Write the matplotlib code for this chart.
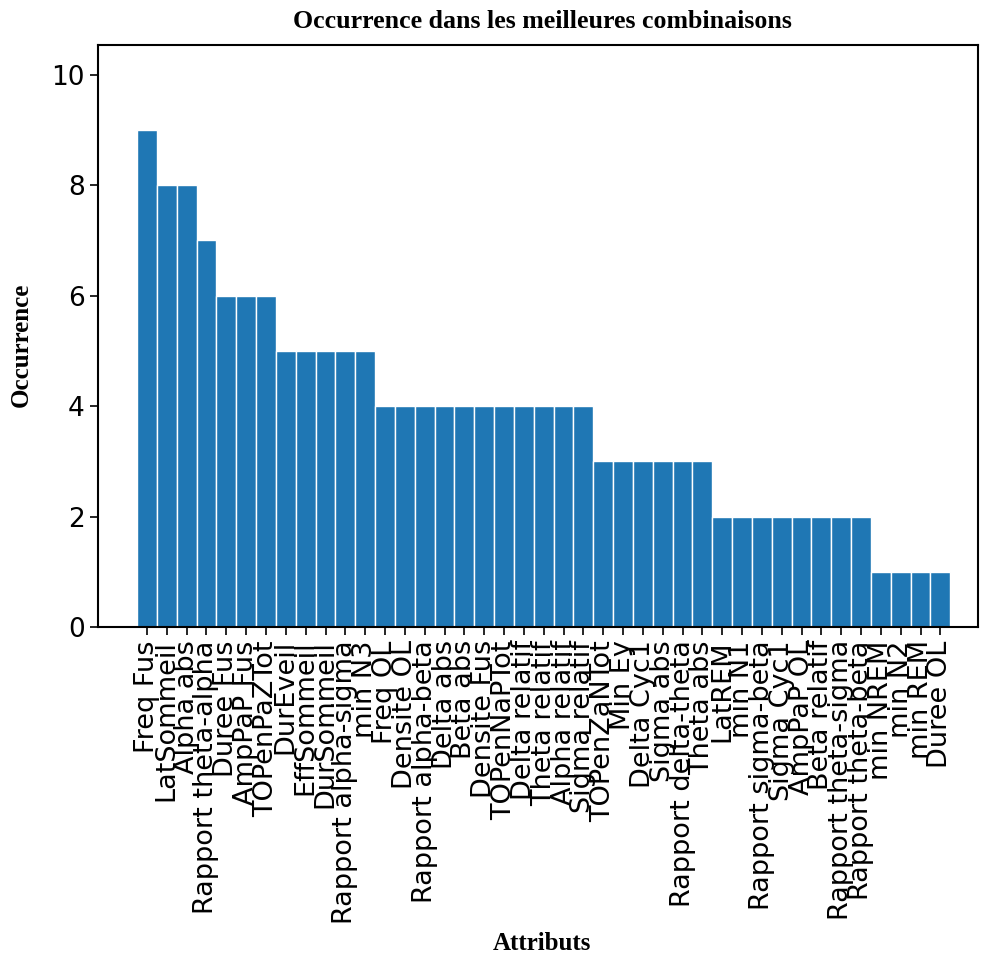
import matplotlib
matplotlib.use("Agg")
import matplotlib.pyplot as plt
import numpy as np

attributs = ["Freq Fus", "LatSommeil", "Alpha abs", "Rapport theta-alpha", "Duree Fus",
             "AmpPaP Fus", "TOPenPaZTot", "DurEveil", "EffSommeil", "DurSommeil",
             "Rapport alpha-sigma", "min N3", "Freq OL", "Densite OL", "Rapport alpha-beta",
             "Delta abs", "Beta abs", "Densite Fus", "TOPenNaPTot", "Delta relatif",
             "Theta relatif", "Alpha relatif", "Sigma relatif", "TOPenZaNTot", "Min Ey",
             "Delta Cyc1", "Sigma abs", "Rapport delta-theta", "Theta abs", "LatREM",
             "min N1", "Rapport sigma-beta", "Sigma Cyc1", "AmpPaP OL", "Beta relatif",
             "Rapport theta-sigma", "Rapport theta-beta", "min NREM", "min N2", "min REM",
             "Duree OL"]
occurrences = [9, 8, 8, 7, 6, 6, 6, 5, 5, 5, 5, 5, 4, 4, 4, 4, 4, 4, 4, 4, 4, 4, 4,
               3, 3, 3, 3, 3, 3, 2, 2, 2, 2, 2, 2, 2, 2, 1, 1, 1, 1]

fig = plt.figure(figsize=(9.82, 9.57), dpi=100)
ax = fig.add_axes([0.0998, 0.3448, 0.8962, 0.6082])

x = np.arange(len(attributs))
ax.bar(x, occurrences, width=1.0, color="#1f77b4", edgecolor="white", linewidth=1.0)
ax.set_xticks(x)
ax.set_xticklabels(attributs, rotation=90, fontsize=19.5, family="DejaVu Sans")
ax.tick_params(axis="y", labelsize=19)
ax.tick_params(length=6, width=1.2)
ax.set_xlim(-2.47, 41.9)
ax.set_ylim(0, 10.54)
ax.set_yticks([0, 2, 4, 6, 8, 10])
for s in ax.spines.values():
    s.set_linewidth(1.5)

fig.text(0.552, 0.978, "Occurrence dans les meilleures combinaisons", ha="center", va="center",
         family="Liberation Serif", fontweight="bold", fontsize=18.6)
fig.text(0.022, 0.64, "Occurrence", rotation=90, ha="center", va="center",
         family="Liberation Serif", fontweight="bold", fontsize=18)
fig.text(0.552, 0.014, "Attributs", ha="center", va="center",
         family="Liberation Serif", fontweight="bold", fontsize=18)

fig.savefig("out.png", dpi=100)
